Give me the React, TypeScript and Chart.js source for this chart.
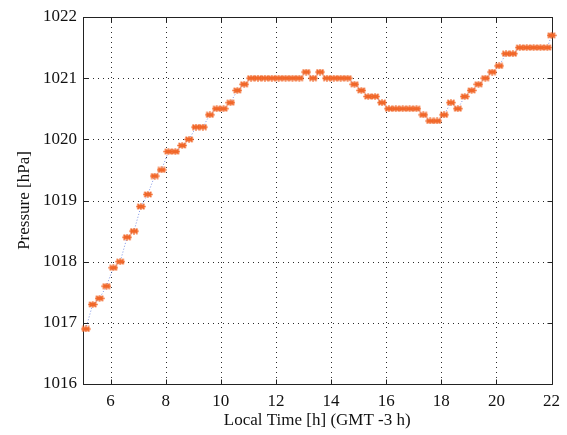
import { useEffect, useRef } from "react";
import { Chart, registerables } from "chart.js";

Chart.register(...registerables);

// Local time of each reading, hours (GMT -3 h)
const TIMES = [
  5.1, 5.35, 5.6, 5.85, 6.1, 6.35, 6.6, 6.85, 7.1, 7.35, 7.6, 7.85,
  8.1, 8.35, 8.6, 8.85, 9.1, 9.35, 9.6, 9.85, 10.1, 10.35, 10.6, 10.85,
  11.1, 11.35, 11.6, 11.85, 12.1, 12.35, 12.6, 12.85, 13.1, 13.35, 13.6, 13.85,
  14.1, 14.35, 14.6, 14.85, 15.1, 15.35, 15.6, 15.85, 16.1, 16.35, 16.6, 16.85,
  17.1, 17.35, 17.6, 17.85, 18.1, 18.35, 18.6, 18.85, 19.1, 19.35, 19.6, 19.85,
  20.1, 20.35, 20.6, 20.85, 21.1, 21.35, 21.6, 21.85, 22.0,
];

// Station pressure, hPa
const PRESSURE = [
  1016.9, 1017.3, 1017.4, 1017.6, 1017.9, 1018.0, 1018.4, 1018.5, 1018.9, 1019.1, 1019.4, 1019.5,
  1019.8, 1019.8, 1019.9, 1020.0, 1020.2, 1020.2, 1020.4, 1020.5, 1020.5, 1020.6, 1020.8, 1020.9,
  1021.0, 1021.0, 1021.0, 1021.0, 1021.0, 1021.0, 1021.0, 1021.0, 1021.1, 1021.0, 1021.1, 1021.0,
  1021.0, 1021.0, 1021.0, 1020.9, 1020.8, 1020.7, 1020.7, 1020.6, 1020.5, 1020.5, 1020.5, 1020.5,
  1020.5, 1020.4, 1020.3, 1020.3, 1020.4, 1020.6, 1020.5, 1020.7, 1020.8, 1020.9, 1021.0, 1021.1,
  1021.2, 1021.4, 1021.4, 1021.5, 1021.5, 1021.5, 1021.5, 1021.5, 1021.7,
];

const X_TICKS = [6, 8, 10, 12, 14, 16, 18, 20, 22];
const Y_TICKS = [1016, 1017, 1018, 1019, 1020, 1021, 1022];
const X_MIN = 5;
const X_MAX = 22;
const Y_MIN = 1016;
const Y_MAX = 1022;

const X_TITLE = "Local Time [h] (GMT -3 h)";
const Y_TITLE = "Pressure [hPa]";

const FONT_FAMILY = '"Liberation Serif", "Times New Roman", serif';
const FONT_SIZE = 17;
const MARKER_COLOR = "rgb(241, 103, 41)";
const LINE_COLOR = "rgba(80, 110, 220, 0.75)";
const GRID_COLOR = "rgba(20, 20, 20, 0.9)";
const AXIS_COLOR = "#222";

// Orange star-like marker, slightly wider than tall
function makeMarker(): HTMLCanvasElement {
  const c = document.createElement("canvas");
  c.width = 10;
  c.height = 7;
  const g = c.getContext("2d")!;
  g.strokeStyle = MARKER_COLOR;
  g.lineWidth = 1.5;
  g.beginPath();
  g.moveTo(0.3, 3.5);
  g.lineTo(9.7, 3.5);
  g.moveTo(1.5, 2.5);
  g.lineTo(8.5, 2.5);
  g.moveTo(1.5, 4.5);
  g.lineTo(8.5, 4.5);
  g.moveTo(5, 0.2);
  g.lineTo(5, 6.8);
  g.moveTo(1.5, 0.8);
  g.lineTo(8.5, 6.2);
  g.moveTo(8.5, 0.8);
  g.lineTo(1.5, 6.2);
  g.stroke();
  return c;
}

// Dotted grid, box and inward tick marks on all four sides
const framePlugin = {
  id: "frame",
  beforeDatasetsDraw(chart: any) {
    const { ctx, chartArea: a, scales } = chart;
    const xs = scales.x;
    const ys = scales.y;
    ctx.save();

    ctx.strokeStyle = GRID_COLOR;
    ctx.lineWidth = 1;
    ctx.setLineDash([1, 4]);
    ctx.beginPath();
    for (const v of X_TICKS) {
      const px = Math.round(xs.getPixelForValue(v)) + 0.5;
      ctx.moveTo(px, a.top);
      ctx.lineTo(px, a.bottom);
    }
    for (const v of Y_TICKS) {
      const py = Math.round(ys.getPixelForValue(v)) + 0.5;
      ctx.moveTo(a.left, py);
      ctx.lineTo(a.right, py);
    }
    ctx.stroke();

    ctx.setLineDash([]);
    ctx.strokeStyle = AXIS_COLOR;
    ctx.beginPath();
    const l = Math.round(a.left) + 0.5;
    const r = Math.round(a.right) + 0.5;
    const t = Math.round(a.top) + 0.5;
    const b = Math.round(a.bottom) + 0.5;
    ctx.rect(l, t, r - l, b - t);
    const tick = 5;
    for (const v of X_TICKS) {
      const px = Math.round(xs.getPixelForValue(v)) + 0.5;
      ctx.moveTo(px, b);
      ctx.lineTo(px, b - tick);
      ctx.moveTo(px, t);
      ctx.lineTo(px, t + tick);
    }
    for (const v of Y_TICKS) {
      const py = Math.round(ys.getPixelForValue(v)) + 0.5;
      ctx.moveTo(l, py);
      ctx.lineTo(l + tick, py);
      ctx.moveTo(r, py);
      ctx.lineTo(r - tick, py);
    }
    ctx.stroke();
    ctx.restore();
  },
  afterDraw(chart: any) {
    const { ctx, chartArea: a } = chart;
    ctx.save();
    ctx.fillStyle = "#111";
    ctx.font = `${FONT_SIZE}px ${FONT_FAMILY}`;
    ctx.textAlign = "center";
    ctx.textBaseline = "middle";
    ctx.fillText(X_TITLE, (a.left + a.right) / 2, 421);
    ctx.translate(25, (a.top + a.bottom) / 2);
    ctx.rotate(-Math.PI / 2);
    ctx.fillText(Y_TITLE, 0, 0);
    ctx.restore();
  },
};

export default function App() {
  const canvasRef = useRef<HTMLCanvasElement | null>(null);

  useEffect(() => {
    const canvas = canvasRef.current;
    if (!canvas) return;
    const marker = makeMarker();
    const points = TIMES.map((t, i) => ({ x: t, y: PRESSURE[i] }));

    const chart = new Chart(canvas, {
      type: "line",
      data: {
        datasets: [
          {
            data: points,
            borderColor: LINE_COLOR,
            borderWidth: 1,
            borderDash: [1, 2],
            pointStyle: marker as any,
            pointRadius: 4,
            pointHoverRadius: 4,
            backgroundColor: MARKER_COLOR,
            tension: 0,
            clip: 8 as any,
          },
        ],
      },
      options: {
        animation: false,
        responsive: true,
        maintainAspectRatio: false,
        events: [],
        layout: { padding: { top: 17, right: 15, left: 0, bottom: 0 } },
        plugins: {
          legend: { display: false },
          tooltip: { enabled: false },
        },
        scales: {
          x: {
            type: "linear",
            min: X_MIN,
            max: X_MAX,
            grid: { display: false, drawTicks: false },
            border: { display: false },
            afterBuildTicks: (s: any) => {
              s.ticks = X_TICKS.map((v) => ({ value: v }));
            },
            afterFit: (s: any) => {
              s.height = 51;
            },
            ticks: {
              autoSkip: false,
              maxRotation: 0,
              padding: 7,
              color: "#111",
              font: { family: FONT_FAMILY, size: FONT_SIZE },
              callback: (v: any) => String(v),
            },
          },
          y: {
            type: "linear",
            min: Y_MIN,
            max: Y_MAX,
            grid: { display: false, drawTicks: false },
            border: { display: false },
            afterBuildTicks: (s: any) => {
              s.ticks = Y_TICKS.map((v) => ({ value: v }));
            },
            afterFit: (s: any) => {
              s.width = 83;
            },
            ticks: {
              autoSkip: false,
              padding: 6,
              color: "#111",
              font: { family: FONT_FAMILY, size: FONT_SIZE },
              callback: (v: any) => String(v),
            },
          },
        },
      },
      plugins: [framePlugin],
    });

    return () => chart.destroy();
  }, []);

  return (
    <div
      style={{
        position: "absolute",
        left: 0,
        top: 0,
        width: 567,
        height: 435,
        background: "#fff",
      }}
    >
      <canvas ref={canvasRef} />
    </div>
  );
}
